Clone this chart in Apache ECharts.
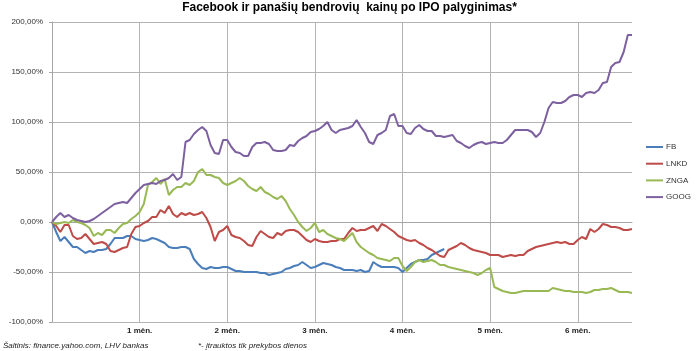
<!DOCTYPE html>
<html>
<head>
<meta charset="utf-8">
<script src="https://cdn.jsdelivr.net/npm/echarts@6/dist/echarts.min.js"></script>
<style>
  html, body { margin: 0; padding: 0; background: #fff; }
  #main { width: 699px; height: 351px; }
</style>
</head>
<body>
<div id="main"></div>
<script>
// prekybos dienos nuo IPO, kas 21 diena - menuo
const monthLabels = ["1 mėn.", "2 mėn.", "3 mėn.", "4 mėn.", "5 mėn.", "6 mėn."];
const daysPerMonth = 21;
const dayCount = 140;

// pokytis nuo IPO kainos, %
const fb = [
  0, -10, -19, -15, -20, -25, -25, -28, -31, -29, -30, -28, -28, -27, -22, -16, -16, -16, -14, -14,
  -17, -18, -19, -18, -16, -17, -19, -21, -25, -26, -26, -25, -25, -27, -37, -42, -46, -47, -45, -46,
  -46, -45, -45, -47, -49, -49, -50, -50, -50, -50, -51, -51, -53, -52, -51, -50, -47, -46, -44, -43,
  -40, -43, -46, -45, -43, -41, -42, -43, -45, -46, -48, -48, -48, -49, -48, -50, -49, -40, -43, -45,
  -45, -45, -45, -46, -50, -46, -42, -40, -38, -38, -37, -33, -31, -29, -27
];
const lnkd = [
  0, -4, -10, -3, -3, -14, -17, -16, -12, -17, -22, -21, -20, -22, -29, -30, -28, -26, -25, -12,
  -5, -4, -1, 1, 5, 5, 12, 9, 16, 8, 5, 9, 7, 9, 7, 8, 10, 4, -5, -19,
  -10, -8, -4, -13, -15, -16, -19, -23, -24, -15, -9, -12, -15, -16, -11, -13, -9, -8, -8, -10,
  -14, -18, -20, -17, -19, -20, -20, -19, -19, -17, -17, -11, -6, -9, -8, -8, -6, -4, -9, -2,
  -4, -7, -10, -14, -16, -18, -19, -18, -21, -23, -26, -28, -31, -34, -35, -28, -26, -24, -21, -23,
  -26, -28, -29, -30, -31, -33, -33, -33, -35, -34, -33, -34, -33, -33, -29, -27, -25, -24, -23, -22,
  -21, -20, -21, -20, -22, -22, -18, -15, -17, -7, -10, -7, -2, -3, -5, -5, -6, -8, -8, -7
];
const znga = [
  0, -2, -1, 0, -1, 2, 0, -1, -3, -6, -14, -11, -13, -8, -8, -11, -6, -2, -1, 3,
  6, 10, 18, 37, 40, 44, 38, 43, 27, 32, 35, 35, 39, 37, 41, 50, 53, 47, 47, 45,
  44, 39, 37, 39, 41, 44, 41, 36, 33, 31, 35, 30, 28, 25, 23, 26, 21, 13, 7, 0,
  -5, -9, -6, -1, -10, -8, -12, -14, -16, -17, -19, -15, -11, -20, -25, -28, -31, -33, -36, -37,
  -38, -39, -36, -36, -44, -49, -45, -40, -38, -40, -39, -38, -40, -43, -43, -45, -46, -47, -48, -49,
  -50, -51, -53, -51, -48, -46, -65, -67, -69, -70, -71, -71, -70, -69, -69, -69, -69, -69, -69, -69,
  -66, -67, -68, -69, -69, -70, -70, -70, -71, -70, -68, -68, -67, -67, -66, -68, -70, -70, -70, -71
];
const goog = [
  0, 5, 9, 5, 7, 4, 2, 1, 0, 1, 3, 6, 9, 12, 15, 18, 19, 20, 19, 24,
  29, 33, 37, 38, 39, 38, 41, 42, 44, 48, 42, 45, 80, 82, 88, 92, 95, 91, 77, 69,
  68, 82, 82, 75, 70, 69, 66, 66, 75, 79, 79, 80, 78, 72, 71, 71, 72, 77, 76, 81,
  84, 86, 90, 91, 93, 96, 100, 92, 89, 92, 93, 94, 96, 102, 95, 89, 80, 78, 87, 89,
  92, 106, 108, 96, 96, 89, 88, 94, 97, 93, 91, 91, 86, 86, 85, 86, 87, 81, 79, 76,
  74, 77, 79, 80, 78, 79, 80, 79, 79, 82, 87, 92, 92, 92, 92, 90, 85, 89, 100, 114,
  120, 119, 119, 121, 125, 127, 127, 125, 129, 130, 129, 132, 139, 140, 155, 159, 160, 170, 187, 187
];

const days = [];
for (let i = 0; i < dayCount; i++) {
  days.push(i > 0 && i % daysPerMonth === 0 ? monthLabels[i / daysPerMonth - 1] : "");
}
const isMonth = (index) => index > 0 && index % daysPerMonth === 0;

const font = "'Liberation Sans', Arial, sans-serif";

const chart = echarts.init(document.getElementById("main"));

const lineSeries = (name, data, color) => ({
  name: name,
  type: "line",
  data: data,
  showSymbol: false,
  symbol: "none",
  lineStyle: { width: 2, color: color },
  itemStyle: { color: color },
});

chart.setOption({
  animation: false,
  title: {
    text: "Facebook ir panašių bendrovių  kainų po IPO palyginimas*",
    left: "center",
    top: 2,
    padding: 0,
    textStyle: {
      fontFamily: font,
      fontSize: 12,
      fontWeight: "bold",
      color: "#000",
    },
  },
  legend: {
    orient: "vertical",
    left: 646,
    top: 142,
    padding: 0,
    itemWidth: 17,
    itemHeight: 2,
    itemGap: 6.7,
    icon: "rect",
    textStyle: {
      fontFamily: font,
      fontSize: 8,
      lineHeight: 10,
      color: "#333",
      padding: [0, 0, 0, -2],
    },
    data: ["FB", "LNKD", "ZNGA", "GOOG"],
  },
  grid: {
    left: 52,
    right: 67,
    top: 22,
    bottom: 29,
  },
  xAxis: {
    type: "category",
    boundaryGap: false,
    data: days,
    axisLine: { lineStyle: { color: "#a6a6a6", width: 1 } },
    axisTick: { show: true, length: 3, interval: isMonth, lineStyle: { color: "#a6a6a6" } },
    axisLabel: {
      interval: isMonth,
      margin: 5,
      fontFamily: font,
      fontSize: 8,
      fontWeight: "bold",
      color: "#222",
    },
    splitLine: {
      show: true,
      interval: isMonth,
      lineStyle: { color: "#b3b3b3", width: 1 },
    },
  },
  yAxis: {
    type: "value",
    min: -100,
    max: 200,
    interval: 50,
    axisLine: { show: true, lineStyle: { color: "#a6a6a6", width: 1 } },
    axisTick: { show: true, length: 3, lineStyle: { color: "#a6a6a6" } },
    axisLabel: {
      margin: 9,
      fontFamily: font,
      fontSize: 8,
      color: "#333",
      formatter: (v) => v.toFixed(2).replace(".", ",") + "%",
    },
    splitLine: { lineStyle: { color: "#b3b3b3", width: 1 } },
  },
  graphic: [
    {
      type: "text",
      left: 3,
      top: 342,
      style: {
        text: "Šaltinis: finance.yahoo.com, LHV bankas",
        font: "italic 8px " + font,
        fill: "#222",
      },
    },
    {
      type: "text",
      left: 198,
      top: 342,
      style: {
        text: "*- įtrauktos tik prekybos dienos",
        font: "italic 8px " + font,
        fill: "#222",
      },
    },
  ],
  series: [
    lineSeries("FB", fb, "#4a7ebb"),
    lineSeries("LNKD", lnkd, "#be4b48"),
    lineSeries("ZNGA", znga, "#98b954"),
    lineSeries("GOOG", goog, "#7d60a0"),
  ],
});
</script>
</body>
</html>
